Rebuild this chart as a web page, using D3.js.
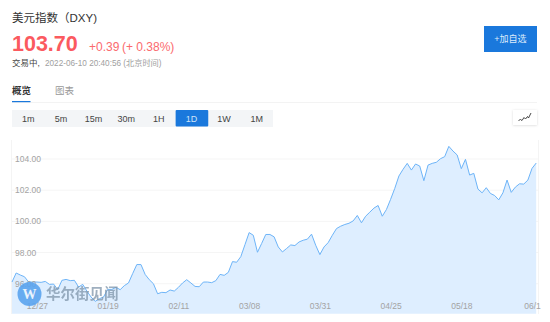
<!DOCTYPE html>
<html>
<head>
<meta charset="utf-8">
<script src="https://cdn.jsdelivr.net/npm/d3@7"></script>
<style>
html, body { margin: 0; padding: 0; background: #fff; overflow: hidden; }
svg { display: block; }
text { font-family: "Liberation Sans", "Noto Sans CJK SC", sans-serif; }
</style>
</head>
<body>
<div id="chart"></div>
<script>
const values = [96.11, 96.69, 96.56, 96.45, 96.11, 96.11, 96.11, 96.09, 96.15, 95.96,
  95.98, 95.62, 96.22, 96.28, 96.20, 96.22, 95.79, 95.96, 95.53, 95.15,
  94.87, 95.04, 95.15, 95.64, 95.64, 95.77, 95.62, 95.88, 96.05, 96.65,
  97.23, 97.23, 96.60, 96.26, 96.00, 95.36, 95.45, 95.43, 95.60, 95.53,
  95.77, 96.05, 96.26, 96.05, 95.83, 95.81, 96.11, 96.11, 96.07, 96.20,
  96.60, 96.54, 96.73, 97.42, 97.38, 97.74, 98.51, 99.28, 99.11, 98.02,
  98.58, 99.16, 99.16, 99.01, 98.36, 98.04, 98.26, 98.49, 98.45, 98.68,
  98.79, 98.86, 99.18, 98.47, 97.87, 98.36, 98.64, 99.11, 99.54, 99.69,
  99.80, 99.88, 100.03, 100.38, 99.91, 100.33, 100.59, 100.85, 101.02, 100.33,
  100.76, 101.41, 102.11, 102.91, 103.34, 103.72, 103.29, 103.68, 103.55, 102.61,
  103.61, 103.72, 103.79, 104.02, 104.15, 104.81, 104.51, 104.26, 103.38, 103.98,
  102.97, 103.08, 102.07, 101.83, 102.16, 101.79, 101.66, 101.38, 101.83, 102.65,
  101.86, 102.20, 102.41, 102.39, 102.65, 103.40, 103.74];
const yTicks = [96, 98, 100, 102, 104];
const dateLabels = ["12/27", "01/19", "02/11", "03/08", "03/31", "04/25", "05/18", "06/1"];
const dateIndex = [6, 23, 40, 57, 74, 91, 108, 125];
const periods = ["1m", "5m", "15m", "30m", "1H", "1D", "1W", "1M"];
const activePeriod = "1D";
const tabs = ["概览", "图表"];

const width = 550, height = 322;
const svg = d3.select("#chart").append("svg").attr("width", width).attr("height", height);

// header
svg.append("text").attr("x", 12).attr("y", 22).attr("font-size", 11.5).attr("fill", "#333").text("美元指数（DXY)");
svg.append("text").attr("x", 12).attr("y", 51).attr("font-size", 21.5).attr("font-weight", "bold").attr("fill", "#fb5a5f").text("103.70");
svg.append("text").attr("x", 89).attr("y", 51).attr("font-size", 12).attr("fill", "#fb6a6e").text("+0.39");
svg.append("text").attr("x", 122).attr("y", 51).attr("font-size", 12).attr("fill", "#fb6a6e").text("(+ 0.38%)");
svg.append("text").attr("x", 12).attr("y", 66).attr("font-size", 8.5).attr("fill", "#444").text("交易中,");
svg.append("text").attr("x", 45).attr("y", 66).attr("font-size", 8.2).attr("fill", "#a0a0a0").text("2022-06-10 20:40:56 (北京时间)");

// add button
svg.append("rect").attr("x", 484).attr("y", 26).attr("width", 53).attr("height", 26).attr("fill", "#1a78dc");
svg.append("text").attr("x", 510.5).attr("y", 42).attr("text-anchor", "middle").attr("font-size", 9).attr("fill", "#dcebfb").text("+加自选");

// tabs
const tabX = d3.scaleOrdinal().domain(tabs).range([12, 55]);
svg.selectAll(".tab").data(tabs).enter().append("text")
  .attr("class", "tab")
  .attr("x", d => tabX(d))
  .attr("y", 94)
  .attr("font-size", 9.5)
  .attr("font-weight", (d, i) => i === 0 ? "bold" : "normal")
  .attr("fill", (d, i) => i === 0 ? "#333" : "#999")
  .text(d => d);
svg.append("line").attr("x1", 12).attr("x2", 537).attr("y1", 102.5).attr("y2", 102.5).attr("stroke", "#f3f3f3");
svg.append("rect").attr("x", 12).attr("y", 101).attr("width", 18.5).attr("height", 1.2).attr("fill", "#1a78dc");

// period buttons
const periodX = d3.scaleBand().domain(periods).range([12, 273]);
svg.append("rect").attr("x", 12).attr("y", 110).attr("width", 261).attr("height", 17).attr("fill", "#f3f5f7");
svg.append("rect").attr("x", periodX(activePeriod) + 0.5).attr("y", 110).attr("width", periodX.bandwidth()).attr("height", 16.5).attr("rx", 1).attr("fill", "#1a78dc");
svg.selectAll(".period").data(periods).enter().append("text")
  .attr("class", "period")
  .attr("x", d => periodX(d) + periodX.bandwidth() / 2)
  .attr("y", 121.5)
  .attr("text-anchor", "middle")
  .attr("font-size", 9)
  .attr("fill", d => d === activePeriod ? "#cfe3f8" : "#444")
  .text(d => d);

// chart type button
const defs = svg.append("defs");
const shadow = defs.append("filter").attr("id", "shadow").attr("x", "-30%").attr("y", "-30%").attr("width", "160%").attr("height", "160%");
shadow.append("feDropShadow").attr("dx", 0).attr("dy", 0.5).attr("stdDeviation", 1).attr("flood-color", "#000").attr("flood-opacity", 0.15);
svg.append("rect").attr("x", 513).attr("y", 110).attr("width", 24).attr("height", 15).attr("fill", "#fff").attr("filter", "url(#shadow)");
svg.append("path").attr("d", "M518.5 120.500l2-1 1.500 1 2-3 1.500 1.500 2-2.500 1 1.500 2.500-5").attr("fill", "none").attr("stroke", "#333").attr("stroke-width", 0.9);

// chart
const x = d3.scaleLinear().domain([0, values.length - 1]).range([12, 536.2]);
const y = d3.scaleLinear().domain([94.08, 104]).range([313.7, 159]);

svg.append("line").attr("x1", 11.5).attr("x2", 11.5).attr("y1", 140).attr("y2", 314).attr("stroke", "#f4f4f4");
svg.append("line").attr("x1", 538.5).attr("x2", 538.5).attr("y1", 140).attr("y2", 314).attr("stroke", "#f4f4f4");

svg.selectAll(".grid").data(yTicks).enter().append("line")
  .attr("class", "grid")
  .attr("x1", 12).attr("x2", 538)
  .attr("y1", d => y(d)).attr("y2", d => y(d))
  .attr("stroke", "#f5f5f5");

const area = d3.area().x((d, i) => x(i)).y0(y.range()[0]).y1(d => y(d));
const line = d3.line().x((d, i) => x(i)).y(d => y(d));
svg.append("path").datum(values).attr("d", area).attr("fill", "#deeeff");
svg.append("path").datum(values).attr("d", line).attr("fill", "none").attr("stroke", "#6db4f8").attr("stroke-width", 1);

svg.selectAll(".ylab").data(yTicks).enter().append("text")
  .attr("class", "ylab")
  .attr("x", 15)
  .attr("y", d => y(d) + 3)
  .attr("font-size", 8.5)
  .attr("fill", "#a3a3a3")
  .text(d => d3.format(".2f")(d));

svg.selectAll(".xlab").data(dateIndex).enter().append("text")
  .attr("class", "xlab")
  .attr("x", d => x(d) + 0.5)
  .attr("y", 309)
  .attr("text-anchor", "middle")
  .attr("font-size", 8.5)
  .attr("fill", "#a3a3a3")
  .text((d, i) => dateLabels[i]);

// watermark
const mark = svg.append("g");
mark.append("circle").attr("cx", 29.5).attr("cy", 294).attr("r", 12).attr("fill", "#5aa3ee").attr("opacity", 0.9);
mark.append("text").attr("x", 29.5).attr("y", 299).attr("text-anchor", "middle").attr("font-size", 14).attr("font-weight", "bold").attr("fill", "#eaf3fd").style("font-family", "'Liberation Serif', serif").text("W");
mark.append("text").attr("x", 46).attr("y", 299).attr("font-size", 14.5).attr("font-weight", "bold").attr("fill", "#7f95aa").attr("opacity", 0.75).style("font-family", "'Noto Sans CJK SC', sans-serif").text("华尔街见闻");
</script>
</body>
</html>
